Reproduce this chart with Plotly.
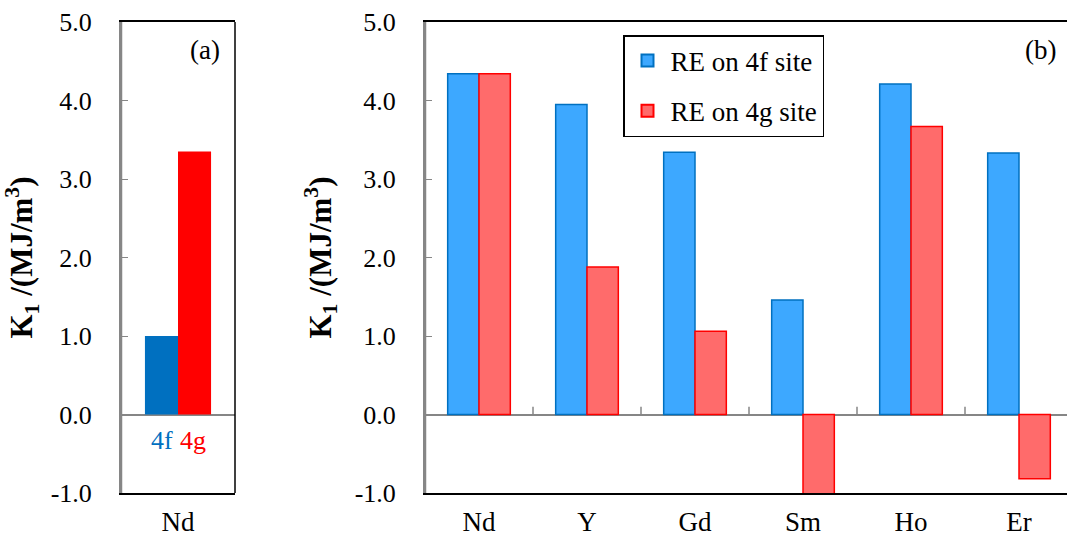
import plotly.graph_objects as go

# ---- data ----
cat_a = ["Nd"]
k1_a_4f = [1.00]
k1_a_4g = [3.35]

elements = ["Nd", "Y", "Gd", "Sm", "Ho", "Er"]
k1_4f = [4.34, 3.95, 3.34, 1.46, 4.21, 3.33]
k1_4g = [4.34, 1.88, 1.06, -1.04, 3.67, -0.82]

y_ticks = [-1.0, 0.0, 1.0, 2.0, 3.0, 4.0, 5.0]
y_ticktext = ["%.1f" % v for v in y_ticks]

FONT = "Liberation Serif, Times New Roman, serif"
W, H = 1067, 537
GRAY = "#868686"

fig = go.Figure()

# panel (a)
fig.add_trace(go.Bar(x=cat_a, y=k1_a_4f, marker=dict(color="#0070C0", line=dict(width=0)),
                     xaxis="x", yaxis="y", showlegend=False, offsetgroup="a1"))
fig.add_trace(go.Bar(x=cat_a, y=k1_a_4g, marker=dict(color="#FF0000", line=dict(width=0)),
                     xaxis="x", yaxis="y", showlegend=False, offsetgroup="a2"))

# panel (b)
fig.add_trace(go.Bar(x=elements, y=k1_4f, name="RE on 4f site",
                     marker=dict(color="#3DA8FF", line=dict(color="#0070C0", width=1.5)),
                     xaxis="x2", yaxis="y2", legendgroup="g1", offsetgroup="b1"))
fig.add_trace(go.Bar(x=elements, y=k1_4g, name="RE on 4g site",
                     marker=dict(color="#FF6B6B", line=dict(color="#FF0000", width=1.5)),
                     xaxis="x2", yaxis="y2", legendgroup="g2", offsetgroup="b2",
                     cliponaxis=False))

mt, mb = 22, 44
PH = H - mt - mb
xa0, xa1 = 121 / W, 235 / W
xb0, xb1 = 425 / W, 1.0
cat_w = 108.0
xb_range_end = 5.5 - (1073 - 1067) / cat_w


def py(pix):
    """pixel row -> paper y (plot-area relative)"""
    return 1 - (pix - mt) / PH


yaxis_common = dict(range=[-1, 5], tickvals=y_ticks, ticktext=y_ticktext,
                    ticks="inside", ticklen=7, tickcolor=GRAY, tickwidth=1,
                    showline=True, linecolor=GRAY, linewidth=2, showgrid=False,
                    zeroline=True, zerolinecolor=GRAY, zerolinewidth=2,
                    tickfont=dict(family=FONT, size=26, color="black"),
                    ticklabelstandoff=22,
                    title=dict(text="<b>K<sub>1</sub> /(MJ/m<sup>3</sup>)</b>",
                               font=dict(family=FONT, size=31, color="black"), standoff=14),
                    automargin=False)

fig.update_layout(
    width=W, height=H,
    margin=dict(l=0, r=0, t=mt, b=mb),
    paper_bgcolor="white", plot_bgcolor="white",
    barmode="group", bargap=0.42, bargroupgap=0,
    font=dict(family=FONT, size=26, color="black"),
    xaxis=dict(domain=[xa0, xa1], anchor="y", range=[-0.5, 0.5],
               showline=True, linecolor="black", linewidth=1.5, mirror=True,
               ticks="", showgrid=False, tickfont=dict(family=FONT, size=27),
               ticklabelstandoff=4, automargin=False),
    yaxis=dict(domain=[0, 1], anchor="x", **yaxis_common),
    xaxis2=dict(domain=[xb0, xb1], anchor="y2", range=[-0.5, xb_range_end],
                showline=True, linecolor="black", linewidth=1.5, mirror=True,
                ticks="", showgrid=False, tickfont=dict(family=FONT, size=27),
                ticklabelstandoff=4, automargin=False),
    yaxis2=dict(domain=[0, 1], anchor="x2", **yaxis_common),
    legend=dict(x=623 / W, y=py(35), xanchor="left", yanchor="top",
                xref="paper", yref="paper",
                bgcolor="white", bordercolor="black", borderwidth=1.5,
                font=dict(family=FONT, size=27, color="black"),
                traceorder="grouped", tracegroupgap=12, itemwidth=36,
                itemsizing="constant"),
)

# left axis line gray, right border black (panel a)
fig.add_shape(type="line", xref="x domain", yref="y domain", x0=1, x1=1, y0=0, y1=1,
              line=dict(color="black", width=1.5))
fig.add_shape(type="line", xref="x domain", yref="y domain", x0=0, x1=0, y0=0, y1=1,
              line=dict(color=GRAY, width=2.5))
fig.add_shape(type="line", xref="x2 domain", yref="y2 domain", x0=0, x1=0, y0=0, y1=1,
              line=dict(color=GRAY, width=2.5))

# category separator ticks on the zero line (panel b)
for i in range(len(elements) - 1):
    fig.add_shape(type="line", xref="x2", yref="y2", x0=i + 0.5, x1=i + 0.5, y0=0, y1=0.1,
                  line=dict(color=GRAY, width=1.5))

# annotations
fig.add_annotation(text="(a)", x=(205 - 121) / 114, y=py(50), xref="x domain", yref="paper",
                   xanchor="center", yanchor="middle",
                   showarrow=False, font=dict(family=FONT, size=27, color="black"))
fig.add_annotation(text="(b)", x=1040 / W, y=py(50), xref="paper", yref="paper",
                   xanchor="center", yanchor="middle",
                   showarrow=False, font=dict(family=FONT, size=27, color="black"))
fig.add_annotation(text="4f", x=-0.03, y=-0.33, xref="x", yref="y", xanchor="right",
                   yanchor="middle",
                   showarrow=False, font=dict(family=FONT, size=26, color="#0070C0"))
fig.add_annotation(text="4g", x=0.0, y=-0.33, xref="x", yref="y", xanchor="left",
                   yanchor="middle",
                   showarrow=False, font=dict(family=FONT, size=26, color="#FF0000"))

fig.write_html("out.html", config={"displayModeBar": False},
               post_script="document.body.style.margin='0';")
